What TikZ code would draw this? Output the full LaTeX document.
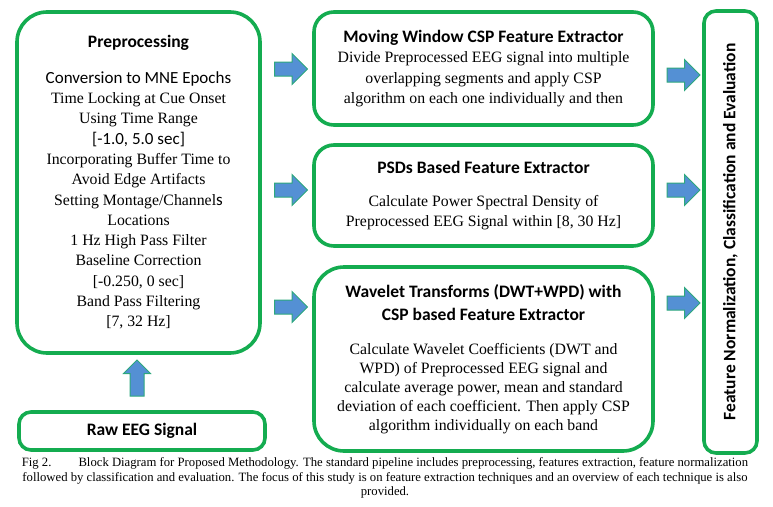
\documentclass[tikz,border=0pt]{standalone}
\usepackage{fontspec}
\setmainfont{Liberation Serif}
\newfontfamily\calibri{Carlito}
\usepackage{tikz}
\usetikzlibrary{arrows,positioning,shapes}
\definecolor{boxgreen}{RGB}{20,172,80}
\definecolor{arrowblue}{RGB}{84,144,212}
\definecolor{arrowedge}{RGB}{45,168,125}
\tikzstyle{block}=[rectangle,draw=boxgreen,line width=3.6pt,fill=white,align=center,
inner sep=0pt,font=\fontsize{15.8}{20.3}\selectfont]
\tikzstyle{rarrow}=[single arrow,draw=arrowedge,fill=arrowblue,line width=1pt,
inner xsep=0pt,inner ysep=6.5pt,minimum height=33pt,single arrow head extend=8.5pt,
single arrow head indent=0pt]
\tikzstyle{uarrow}=[rarrow,shape border rotate=90,inner xsep=6.5pt,inner ysep=0pt,
minimum height=36pt,single arrow head extend=6.5pt]
\newcommand{\hd}[1]{{\calibri\bfseries\fontsize{17.5}{20}\selectfont #1}}
\newcommand{\cb}[1]{{\calibri\fontsize{17}{20}\selectfont #1}}

\begin{document}
\begin{tikzpicture}[x=1pt,y=-1pt]
            \useasboundingbox (0,0) rectangle (773,506);

            % PREPROCESSING PART

            \node[block,rounded corners=30pt,minimum width=243pt,minimum height=341pt] (pre) at (138.5,182.5)
            {\hd{Preprocessing}\\[15pt]
            \cb{Conversion to MNE Epochs}\\
            Time Locking at Cue Onset\\
            Using Time Range\\
            \cb{[-1.0, 5.0 sec]}\\
            Incorporating Buffer Time to\\
            Avoid Edge Artifacts\\
            Setting Montage/Channel\cb{s}\\
            Locations\\
            1 Hz High Pass Filter\\
            Baseline Correction\\
            {[-0.250, 0 sec]}\\
            Band Pass Filtering\\
            {[7, 32 Hz]}};

            \node[block,rounded corners=12pt,minimum width=246pt,minimum height=38pt] (raw) at (142,431)
            {\hd{Raw EEG Signal}};

            \node[uarrow] (a0) at (137,381.5) {};

            % FEATURE EXTRACTOR PART

            \node[block,rounded corners=20pt,minimum width=339pt,minimum height=113pt] (mwcsp) at (483.5,68.5)
            {\hd{Moving Window CSP Feature Extractor}\\
            Divide Preprocessed EEG signal into multiple\\
            overlapping segments and apply CSP\\
            algorithm on each one individually and then};

            \node[block,rounded corners=20pt,minimum width=339pt,minimum height=101pt,
            font=\fontsize{15.8}{19.5}\selectfont] (psd) at (483.5,195.5)
            {\hd{PSDs Based Feature Extractor}\\[14pt]
            Calculate Power Spectral Density of\\
            Preprocessed EEG Signal within [8, 30 Hz]};

            \node[block,rounded corners=30pt,minimum width=339pt,minimum height=184pt,
            font=\fontsize{15.8}{19}\selectfont] (wav) at (483.5,359)
            {\hd{Wavelet Transforms (DWT+WPD) with}\\[4pt]
            \hd{CSP based Feature Extractor}\\[15pt]
            Calculate Wavelet Coefficients (DWT and\\
            WPD) of Preprocessed EEG signal and\\
            calculate average power, mean and standard\\
            deviation of each coefficient. Then apply CSP\\
            algorithm individually on each band};

            \node[rarrow] (a1) at (287.5,69) {};
            \node[rarrow] (a2) at (287.5,190) {};
            \node[rarrow] (a3) at (287.5,307) {};

            % EVALUATION PART

            \node[block,rounded corners=12pt,rotate=90,minimum width=442pt,minimum height=53pt] (fnce) at (730.5,232)
            {\hd{Feature Normalization, Classification and Evaluation}};

            \node[rarrow] (a4) at (680,75) {};
            \node[rarrow] (a5) at (680,190) {};
            \node[rarrow] (a6) at (680,303) {};

            % CAPTION

            \node[align=center,inner sep=0pt,font=\fontsize{12.7}{14.5}\selectfont] (cap) at (385,478)
            {Fig 2.\hspace*{27pt}Block Diagram for Proposed Methodology. The standard pipeline includes preprocessing, features extraction, feature normalization\\
            followed by classification and evaluation. The focus of this study is on feature extraction techniques and an overview of each technique is also\\
            provided.};

        \end{tikzpicture}
\end{document}
